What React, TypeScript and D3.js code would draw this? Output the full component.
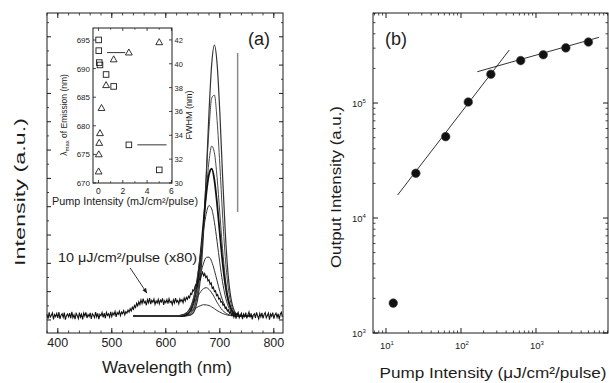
import React from "react";
import * as d3 from "d3";

const FONT = '"Liberation Sans", Arial, Helvetica, sans-serif';
const INK = "#1c1c1c";

// ---------------- Panel (a): emission spectra ----------------
const specWavelengths = [540, 620, 630, 640, 650, 655, 660, 665, 670, 675, 680, 685, 690, 695, 700, 705, 710, 715, 720, 730, 740, 760];
const spec1 = [0, 0, 0, 0.001, 0.009, 0.028, 0.07, 0.155, 0.3, 0.5, 0.72, 0.89, 0.957, 0.89, 0.72, 0.5, 0.3, 0.155, 0.07, 0.009, 0.001, 0];
const spec2 = [0, 0, 0, 0.0015, 0.016, 0.042, 0.095, 0.19, 0.33, 0.5, 0.66, 0.77, 0.78, 0.69, 0.535, 0.36, 0.21, 0.11, 0.049, 0.007, 0, 0];
const spec3 = [0, 0, 0, 0.003, 0.022, 0.052, 0.107, 0.196, 0.313, 0.441, 0.547, 0.6, 0.576, 0.488, 0.364, 0.239, 0.139, 0.07, 0.032, 0.004, 0, 0];
const spec4 = [0, 0, 0, 0.0065, 0.038, 0.077, 0.141, 0.23, 0.334, 0.433, 0.5, 0.52, 0.48, 0.395, 0.292, 0.192, 0.113, 0.059, 0.028, 0.004, 0, 0];
const spec5 = [0, 0, 0.002, 0.013, 0.056, 0.099, 0.16, 0.232, 0.305, 0.363, 0.39, 0.378, 0.331, 0.262, 0.188, 0.121, 0.071, 0.038, 0.018, 0.003, 0, 0];
const spec6 = [0, 0, 0.003, 0.015, 0.05, 0.08, 0.116, 0.154, 0.187, 0.207, 0.208, 0.192, 0.161, 0.124, 0.087, 0.056, 0.033, 0.017, 0.008, 0.0015, 0, 0];
const spec7 = [0, 0.001, 0.004, 0.015, 0.039, 0.055, 0.072, 0.087, 0.097, 0.1, 0.094, 0.082, 0.066, 0.048, 0.033, 0.02, 0.012, 0.006, 0.003, 0, 0, 0];
const spec8 = [0, 0.001, 0.0036, 0.01, 0.021, 0.027, 0.033, 0.037, 0.04, 0.039, 0.037, 0.032, 0.026, 0.019, 0.014, 0.009, 0.0056, 0.003, 0.0017, 0, 0, 0];
const spectra = [spec1, spec2, spec3, spec4, spec5, spec6, spec7, spec8];
const spectraWidth = [1.2, 0.9, 0.9, 1.8, 1.0, 1.0, 1.0, 1.0];

// 10 uJ/cm2/pulse spectrum (x80), sampled every 2 nm from 380 nm
const lowStart = 380;
const lowStep = 2;
const lowSpectrum = [
  // 380-530
  0.006, -0.009, 0.013, -0.004, 0.002, 0.011, -0.012, 0.005, -0.002, 0.009,
  -0.007, 0.014, -0.01, 0.003, 0.008, -0.005, 0.012, -0.013, 0.001, 0.007,
  -0.003, 0.01, -0.008, 0.015, -0.006, 0.004, -0.011, 0.009, 0.002, -0.009,
  0.012, -0.004, 0.006, -0.012, 0.01, 0.0, 0.013, -0.007, 0.005, -0.002,
  0.011, -0.01, 0.008, 0.003, -0.006, 0.014, -0.003, 0.009, -0.011, 0.006,
  0.001, 0.012, -0.005, 0.01, -0.008, 0.013, 0.002, 0.008, -0.004, 0.015,
  -0.002, 0.011, 0.004, 0.016, -0.003, 0.012, 0.006, 0.017, 0.001, 0.014,
  0.008, 0.019, 0.004, 0.015, 0.01, 0.021,
  // 532-548
  0.014, 0.026, 0.018, 0.031, 0.024, 0.037, 0.03, 0.045, 0.036,
  // 550-640
  0.05, 0.04, 0.057, 0.044, 0.061, 0.046, 0.052, 0.038, 0.058, 0.047,
  0.063, 0.042, 0.055, 0.049, 0.06, 0.041, 0.053, 0.046, 0.059, 0.043,
  0.056, 0.05, 0.062, 0.039, 0.054, 0.047, 0.058, 0.044, 0.061, 0.048,
  0.052, 0.04, 0.057, 0.046, 0.063, 0.049, 0.055, 0.043, 0.06, 0.051,
  0.058, 0.047, 0.064, 0.053, 0.066, 0.059,
  // 642-668
  0.07, 0.064, 0.08, 0.076, 0.092, 0.088, 0.104, 0.112, 0.106, 0.125, 0.132, 0.128, 0.146, 0.155,
  // 670-724
  0.142, 0.15, 0.136, 0.141, 0.124, 0.128, 0.112, 0.117, 0.098, 0.102, 0.086, 0.089, 0.072, 0.076,
  0.06, 0.063, 0.049, 0.051, 0.038, 0.041, 0.027, 0.031, 0.018, 0.022, 0.01, 0.015, 0.003, 0.009,
  // 726-816
  -0.004, 0.011, -0.009, 0.006, 0.013, -0.006, 0.002, 0.01, -0.011, 0.007,
  -0.002, 0.012, -0.008, 0.004, 0.014, -0.005, 0.009, -0.012, 0.003, 0.008,
  -0.007, 0.013, 0.001, -0.01, 0.009, -0.003, 0.011, -0.008, 0.005, 0.012,
  -0.006, 0.002, 0.01, -0.013, 0.007, -0.001, 0.012, -0.009, 0.004, 0.01,
  -0.005, 0.008, -0.011, 0.006, 0.013, -0.004,
];
const wavelengthTicks = [400, 500, 600, 700, 800];

// Inset
const insetPumpFWHM = [0.0125, 0.025, 0.0625, 0.125, 0.625, 1.25, 2.5, 5];
const insetFWHM = [42, 41.1, 40.1, 39.9, 39.1, 38.1, 33.2, 31.1];
const insetPumpLambda = [0.0125, 0.025, 0.0625, 0.125, 0.25, 0.625, 1.25, 2.5, 5];
const insetLambda = [672, 675, 677, 678.7, 683.1, 687.1, 691.6, 692.8, 694.6];
const insetXTicks = [0, 2, 4, 6];
const insetLambdaTicks = [670, 675, 680, 685, 690, 695];
const insetFWHMTicks = [30, 32, 34, 36, 38, 40, 42];

// ---------------- Panel (b): output vs pump ----------------
const pumpB = [12.5, 25, 62.5, 125, 250, 625, 1250, 2500, 5000];
const outputB = [1820, 24500, 51000, 102000, 178000, 234000, 263000, 302000, 339000];
const fitLowX = [14.3, 440];
const fitLowY = [15850, 289000];
const fitHighX = [165, 6900];
const fitHighY = [187200, 372600];
const pumpTickExps = [1, 2, 3];
const outputTickExps = [3, 4, 5];

function Frame({ l, r, t, b }: { l: number; r: number; t: number; b: number }) {
  return <rect x={l} y={t} width={r - l} height={b - t} fill="none" stroke={INK} strokeWidth={1} />;
}

export default function App() {
  // Panel (a)
  const A = { l: 47, r: 283, t: 13, b: 333 };
  const xA = d3.scaleLinear().domain([380, 817]).range([A.l, A.r]);
  const yA = d3.scaleLinear().domain([-0.06, 1.07]).range([A.b, A.t]);
  const lineA = d3
    .line<[number, number]>()
    .x((d) => xA(d[0]))
    .y((d) => yA(d[1]))
    .curve(d3.curveMonotoneX);
  const lowPts: [number, number][] = lowSpectrum.map((v, i) => [lowStart + i * lowStep, v]);
  const yTicksA = d3.range(0, 11).map((k) => -0.014 + k * 0.1);
  const yMinorA = d3.range(0, 11).map((k) => 0.036 + k * 0.1);
  const xMinorA = d3.range(380, 818, 20);

  // Inset
  const I = { l: 93, r: 172, t: 28, b: 183 };
  const xI = d3.scaleLinear().domain([-0.45, 6.05]).range([I.l, I.r]);
  const yIL = d3.scaleLinear().domain([670, 697.1]).range([I.b, I.t]);
  const yIR = d3.scaleLinear().domain([30, 43.0]).range([I.b, I.t]);

  // Panel (b)
  const B = { l: 373, r: 608, t: 13, b: 333 };
  const xB = d3.scaleLog().domain([6.71, 9120]).range([B.l, B.r]);
  const yB = d3.scaleLog().domain([1000, 606700]).range([B.b, B.t]);
  const xBTicks = xB.ticks();
  const yBTicks = yB.ticks();
  const isMajor = (v: number) => Math.abs(Math.log10(v) - Math.round(Math.log10(v))) < 1e-6;

  const tri = (cx: number, cy: number) => `M${cx},${cy - 3.6}L${cx + 3.4},${cy + 2.4}L${cx - 3.4},${cy + 2.4}Z`;

  return (
    <svg
      width={609}
      height={383}
      style={{ position: "absolute", left: 0, top: 0, background: "#fff" }}
      fontFamily={FONT}
    >
      <defs>
        <marker id="ah" viewBox="0 0 10 10" refX="9" refY="5" markerWidth="6" markerHeight="6" orient="auto">
          <path d="M0,1 L10,5 L0,9 Z" fill={INK} />
        </marker>
      </defs>
      <rect x={0} y={0} width={609} height={383} fill="#fff" />

      {/* ===== Panel (a) ===== */}
      <g>
        {spectra.map((s, i) => (
          <path
            key={i}
            d={lineA(specWavelengths.map((w, j) => [w, s[j]] as [number, number])) || ""}
            fill="none"
            stroke={i === 3 ? "#111" : "#333"}
            strokeWidth={spectraWidth[i]}
          />
        ))}
        <path
          d={d3.line<[number, number]>().x((d) => xA(d[0])).y((d) => yA(d[1]))(lowPts) || ""}
          fill="none"
          stroke="#111"
          strokeWidth={1.1}
        />
        <line x1={xA(733)} x2={xA(733)} y1={yA(0.929)} y2={yA(0.367)} stroke="#8a8a8a" strokeWidth={1.5} />

        <Frame {...A} />
        {wavelengthTicks.map((v) => (
          <g key={v}>
            <line x1={xA(v)} x2={xA(v)} y1={A.b} y2={A.b - 5} stroke={INK} />
            <line x1={xA(v)} x2={xA(v)} y1={A.t} y2={A.t + 5} stroke={INK} />
            <text x={xA(v)} y={347} textAnchor="middle" fontSize={12.5} fill={INK}>
              {v}
            </text>
          </g>
        ))}
        {xMinorA.map((v) => (
          <g key={"m" + v}>
            <line x1={xA(v)} x2={xA(v)} y1={A.b} y2={A.b - 2.5} stroke={INK} strokeWidth={0.8} />
            <line x1={xA(v)} x2={xA(v)} y1={A.t} y2={A.t + 2.5} stroke={INK} strokeWidth={0.8} />
          </g>
        ))}
        {yTicksA.map((v, i) => (
          <g key={"y" + i}>
            <line x1={A.l} x2={A.l + 4} y1={yA(v)} y2={yA(v)} stroke={INK} />
            <line x1={A.r} x2={A.r - 4} y1={yA(v)} y2={yA(v)} stroke={INK} />
          </g>
        ))}
        {yMinorA.map((v, i) => (
          <g key={"ym" + i}>
            <line x1={A.l} x2={A.l + 2} y1={yA(v)} y2={yA(v)} stroke={INK} strokeWidth={0.8} />
            <line x1={A.r} x2={A.r - 2} y1={yA(v)} y2={yA(v)} stroke={INK} strokeWidth={0.8} />
          </g>
        ))}

        <text x={248} y={45} fontSize={18} fill={INK}>(a)</text>
        <text
          transform="translate(25,192) rotate(-90)"
          textAnchor="middle"
          fontSize={15}
          fill={INK}
          textLength={148}
          lengthAdjust="spacingAndGlyphs"
        >
          Intensity (a.u.)
        </text>
        <text x={167} y={373} textAnchor="middle" fontSize={16} fill={INK} textLength={130} lengthAdjust="spacingAndGlyphs">
          Wavelength (nm)
        </text>

        <text x={58} y={262} fontSize={13} fill={INK} textLength={139} lengthAdjust="spacingAndGlyphs">
          10 μJ/cm²/pulse (x80)
        </text>
        <line
          x1={xA(534)}
          y1={yA(0.1695)}
          x2={xA(565)}
          y2={yA(0.081)}
          stroke={INK}
          strokeWidth={0.9}
          markerEnd="url(#ah)"
        />

        {/* ===== Inset ===== */}
        <rect x={I.l} y={I.t} width={I.r - I.l} height={I.b - I.t} fill="#fff" stroke={INK} strokeWidth={1} />
        {insetXTicks.map((v) => (
          <g key={"ix" + v}>
            <line x1={xI(v)} x2={xI(v)} y1={I.b} y2={I.b - 3} stroke={INK} strokeWidth={0.8} />
            <line x1={xI(v)} x2={xI(v)} y1={I.t} y2={I.t + 3} stroke={INK} strokeWidth={0.8} />
            <text x={xI(v)} y={194} textAnchor="middle" fontSize={8.5} fill={INK}>{v}</text>
          </g>
        ))}
        {[1, 3, 5].map((v) => (
          <g key={"ixm" + v}>
            <line x1={xI(v)} x2={xI(v)} y1={I.b} y2={I.b - 1.8} stroke={INK} strokeWidth={0.7} />
            <line x1={xI(v)} x2={xI(v)} y1={I.t} y2={I.t + 1.8} stroke={INK} strokeWidth={0.7} />
          </g>
        ))}
        {insetLambdaTicks.map((v) => (
          <g key={"il" + v}>
            <line x1={I.l} x2={I.l + 3} y1={yIL(v)} y2={yIL(v)} stroke={INK} strokeWidth={0.8} />
            <text x={90} y={yIL(v) + 3} textAnchor="end" fontSize={8} fill={INK}>{v}</text>
          </g>
        ))}
        {insetFWHMTicks.map((v) => (
          <g key={"ir" + v}>
            <line x1={I.r} x2={I.r - 3} y1={yIR(v)} y2={yIR(v)} stroke={INK} strokeWidth={0.8} />
            <text x={174.5} y={yIR(v) + 3} textAnchor="start" fontSize={7.5} fill={INK}>{v}</text>
          </g>
        ))}
        {insetLambda.map((v, i) => (
          <path key={"t" + i} d={tri(xI(insetPumpLambda[i]), yIL(v))} fill="none" stroke={INK} strokeWidth={0.9} />
        ))}
        {insetFWHM.map((v, i) => (
          <rect
            key={"s" + i}
            x={xI(insetPumpFWHM[i]) - 2.8}
            y={yIR(v) - 2.8}
            width={5.6}
            height={5.6}
            fill="none"
            stroke={INK}
            strokeWidth={0.9}
          />
        ))}
        <line x1={xI(0.7)} x2={xI(2.2)} y1={yIL(692.8)} y2={yIL(692.8)} stroke={INK} strokeWidth={0.9} />
        <line x1={xI(3.2)} x2={xI(5.6)} y1={yIR(33.2)} y2={yIR(33.2)} stroke={INK} strokeWidth={0.9} />
        <text transform="translate(67,115) rotate(-90)" textAnchor="middle" fontSize={8.5} fill={INK}>
          <tspan>λ</tspan>
          <tspan fontSize={6} dy={2}>max</tspan>
          <tspan dy={-2}> of Emission (nm)</tspan>
        </text>
        <text transform="translate(192,115) rotate(-90)" textAnchor="middle" fontSize={9} fill={INK}>
          FWHM (nm)
        </text>
        <text x={125} y={205} textAnchor="middle" fontSize={10} fill={INK} textLength={146} lengthAdjust="spacingAndGlyphs">
          Pump Intensity (mJ/cm²/pulse)
        </text>
      </g>

      {/* ===== Panel (b) ===== */}
      <g>
        <Frame {...B} />
        {xBTicks.map((v, i) => {
          const maj = isMajor(v);
          const len = maj ? 5 : 2.5;
          return (
            <g key={"bx" + i}>
              <line x1={xB(v)} x2={xB(v)} y1={B.b} y2={B.b - len} stroke={INK} strokeWidth={maj ? 1 : 0.8} />
              <line x1={xB(v)} x2={xB(v)} y1={B.t} y2={B.t + len} stroke={INK} strokeWidth={maj ? 1 : 0.8} />
            </g>
          );
        })}
        {yBTicks.map((v, i) => {
          const maj = isMajor(v);
          const len = maj ? 5 : 2.5;
          return (
            <g key={"by" + i}>
              <line x1={B.l} x2={B.l + len} y1={yB(v)} y2={yB(v)} stroke={INK} strokeWidth={maj ? 1 : 0.8} />
              <line x1={B.r} x2={B.r - len} y1={yB(v)} y2={yB(v)} stroke={INK} strokeWidth={maj ? 1 : 0.8} />
            </g>
          );
        })}
        {pumpTickExps.map((e) => (
          <text key={"pl" + e} x={xB(Math.pow(10, e)) - 6} y={349} fontSize={9.5} fill={INK}>
            10<tspan fontSize={6} dy={-4}>{e}</tspan>
          </text>
        ))}
        {outputTickExps.map((e) => (
          <text key={"ol" + e} x={352} y={yB(Math.pow(10, e)) + 3.5} fontSize={9.5} fill={INK}>
            10<tspan fontSize={6} dy={-4}>{e}</tspan>
          </text>
        ))}

        <line x1={xB(fitLowX[0])} y1={yB(fitLowY[0])} x2={xB(fitLowX[1])} y2={yB(fitLowY[1])} stroke={INK} strokeWidth={0.9} />
        <line x1={xB(fitHighX[0])} y1={yB(fitHighY[0])} x2={xB(fitHighX[1])} y2={yB(fitHighY[1])} stroke={INK} strokeWidth={0.9} />
        {outputB.map((v, i) => (
          <circle key={"c" + i} cx={xB(pumpB[i])} cy={yB(v)} r={4.3} fill="#111" stroke="#444" strokeWidth={0.6} />
        ))}

        <text x={385} y={45} fontSize={18} fill={INK}>(b)</text>
        <text
          transform="translate(341,187) rotate(-90)"
          textAnchor="middle"
          fontSize={15}
          fill={INK}
          textLength={162}
          lengthAdjust="spacingAndGlyphs"
        >
          Output Intensity (a.u.)
        </text>
        <text x={493} y={378} textAnchor="middle" fontSize={15.5} fill={INK} textLength={227} lengthAdjust="spacingAndGlyphs">
          Pump Intensity (μJ/cm²/pulse)
        </text>
      </g>
    </svg>
  );
}
